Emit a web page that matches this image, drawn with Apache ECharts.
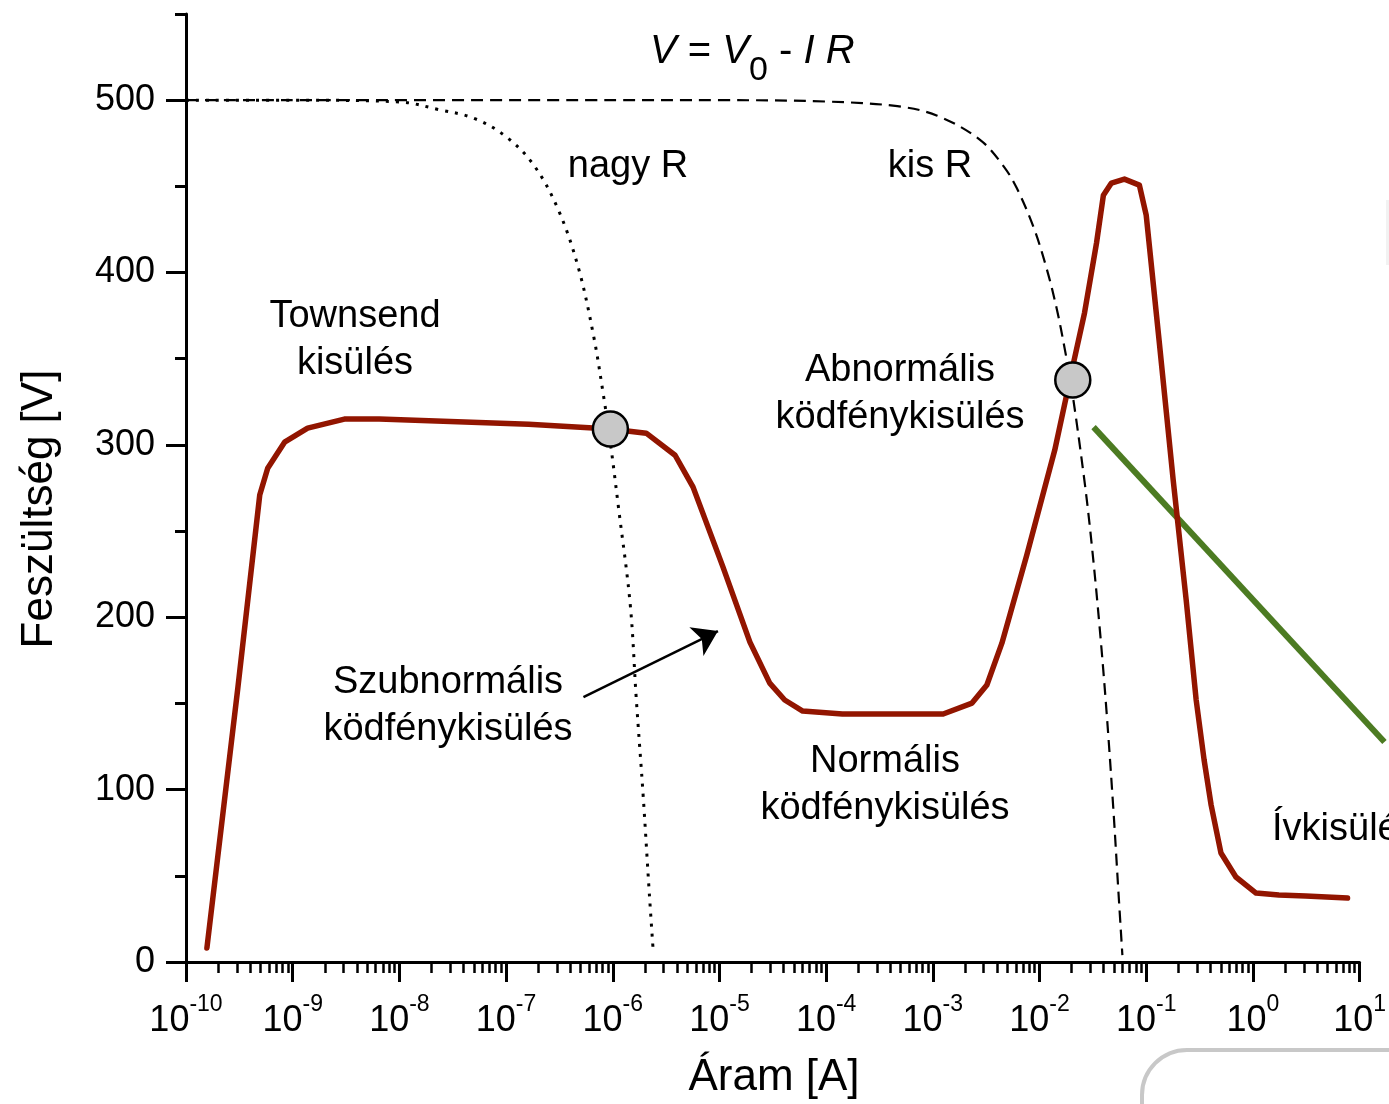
<!DOCTYPE html>
<html><head><meta charset="utf-8">
<script src="https://cdn.jsdelivr.net/npm/echarts@6/dist/echarts.min.js"></script>
<style>html,body{margin:0;padding:0;background:#fff}#c{width:1389px;height:1104px}</style>
</head><body><div id="c"></div>
<script>
const FONT = '"Liberation Sans", Arial, sans-serif';

// Discharge characteristic (red curve): current [A], voltage [V]
const dischargeI = [1.57e-10, 3.06e-10, 4.91e-10, 5.83e-10, 8.39e-10, 1.38e-9, 3.05e-9, 6.47e-9, 1.63e-7, 9.5e-7, 2.06e-6, 3.84e-6, 5.66e-6, 1.08e-5, 1.93e-5, 2.96e-5, 4.09e-5, 6.03e-5, 1.42e-4, 1.25e-3, 2.33e-3, 3.21e-3, 4.44e-3, 7.59e-3, 1.39e-2, 2.08e-2, 2.64e-2, 3.42e-2, 3.97e-2, 4.72e-2, 6.25e-2, 8.63e-2, 0.100, 0.132, 0.179, 0.237, 0.294, 0.349, 0.406, 0.502, 0.693, 1.07, 1.75, 3.13, 7.71];
const dischargeV = [8.1, 158.9, 270.9, 286.5, 301.6, 309.7, 315, 315, 312, 309.2, 306.8, 294, 275.5, 229.1, 185.6, 161.8, 152, 145.6, 143.9, 143.9, 150.2, 160.7, 185, 236, 297, 347.4, 376.5, 417, 444.9, 451.9, 454.2, 450.7, 433.3, 360.8, 279.6, 210, 152, 117.2, 91.1, 63.2, 49.3, 40.0, 38.9, 38.3, 37.1];

// Load line, large R (dotted)
const largeRI = [1e-10, 1e-9, 1e-8, 2.36e-8, 5.0e-8, 9.93e-8, 1.82e-7, 3.10e-7, 4.77e-7, 6.59e-7, 8.17e-7, 9.51e-7, 1.13e-6, 1.46e-6, 1.66e-6, 1.93e-6, 2.20e-6, 2.39e-6];
const largeRV = [500, 500, 499, 494.5, 489.5, 479, 462.3, 436.2, 402.6, 363.7, 329, 301, 264, 207, 153, 96, 40, 7];

// Load line, small R (dashed)
const smallRI = [1e-10, 1e-6, 1e-5, 1e-4, 4.65e-4, 1.10e-3, 2.77e-3, 4.63e-3, 6.12e-3, 8.83e-3, 1.17e-2, 1.45e-2, 1.72e-2, 2.0e-2, 2.64e-2, 3.10e-2, 3.65e-2, 4.24e-2, 4.93e-2, 5.50e-2, 5.98e-2];
const smallRV = [500, 500, 500, 499.2, 496.5, 491, 477, 461.5, 449, 426, 402, 379, 356, 333, 279, 241, 195, 146, 88, 40, 4];

// Arc (green line)
const arcI = [0.0321, 17.1];
const arcV = [310.3, 127.6];

// Operating points (grey circles)
const opI = [9.5e-7, 0.0205];
const opV = [309.2, 337.6];

// Arrow pointing to subnormal region
const arrowI = [5.31e-7, 9.68e-6];
const arrowV = [153.7, 192];

// Axis ticks
const xDecadeExp = [-10, -9, -8, -7, -6, -5, -4, -3, -2, -1, 0, 1];
const xTickLabels = ['-10', '-9', '-8', '-7', '-6', '-5', '-4', '-3', '-2', '-1', '0', '1'];
const xMinorMult = [2, 3, 4, 5, 6, 7, 8, 9];
const yMajorTicks = [0, 100, 200, 300, 400, 500];
const yMinorTicks = [50, 150, 250, 350, 450, 550];

const xMajorValues = xDecadeExp.map(e => Math.pow(10, e));
const xMinorValues = [];
xDecadeExp.slice(0, -1).forEach(e => xMinorMult.forEach(m => xMinorValues.push(m * Math.pow(10, e))));

const zip = (a, b) => a.map((v, i) => [v, b[i]]);

const chart = echarts.init(document.getElementById('c'), null, {renderer: 'canvas'});

const txt = (text, x, y, opts) => Object.assign({
  type: 'text', x: x, y: y, z: 100,
  style: Object.assign({text: text, font: '38px ' + FONT, fill: '#000', align: 'center', verticalAlign: 'middle', textAlign: 'center', textVerticalAlign: 'middle'}, opts && opts.style || {})
}, opts && opts.el || {});

chart.setOption({
  animation: false,
  backgroundColor: '#fff',
  grid: {left: 186, right: 22, top: 14, bottom: 142, containLabel: false},
  xAxis: [{
    type: 'log', logBase: 10, min: 1e-10, max: 10, position: 'bottom',
    axisLine: {show: true, onZero: false, lineStyle: {color: '#000', width: 3}},
    axisTick: {show: true, inside: false, length: 20, lineStyle: {color: '#000', width: 3}, customValues: xMajorValues},
    axisLabel: {
      customValues: xMajorValues, margin: 31, color: '#000', fontFamily: FONT,
      formatter: v => {
        const e = Math.round(Math.log10(v));
        return '{b|10}{s|' + xTickLabels[xDecadeExp.indexOf(e)] + '}';
      },
      rich: {
        b: {fontSize: 36, fontFamily: FONT, color: '#000', lineHeight: 46, verticalAlign: 'bottom'},
        s: {fontSize: 23, fontFamily: FONT, color: '#000', lineHeight: 46, verticalAlign: 'top'}
      }
    },
    splitLine: {show: false}, minorTick: {show: false}
  }, {
    type: 'log', logBase: 10, min: 1e-10, max: 10, position: 'bottom',
    axisLine: {show: false},
    axisTick: {show: true, inside: false, length: 11, lineStyle: {color: '#000', width: 2.5}, customValues: xMinorValues},
    axisLabel: {show: false},
    splitLine: {show: false}
  }],
  yAxis: [{
    type: 'value', min: 0, max: 550, position: 'left',
    axisLine: {show: true, onZero: false, lineStyle: {color: '#000', width: 3}},
    axisTick: {show: true, inside: false, length: 20, lineStyle: {color: '#000', width: 3}, customValues: yMajorTicks},
    axisLabel: {customValues: yMajorTicks, margin: 31, fontSize: 36, fontFamily: FONT, color: '#000'},
    splitLine: {show: false}
  }, {
    type: 'value', min: 0, max: 550, position: 'left',
    axisLine: {show: false},
    axisTick: {show: true, inside: false, length: 11, lineStyle: {color: '#000', width: 3}, customValues: yMinorTicks},
    axisLabel: {show: false},
    splitLine: {show: false}
  }],
  series: [
    {
      name: 'nagy R', type: 'line', data: zip(largeRI, largeRV), showSymbol: false, smooth: 0.35,
      lineStyle: {color: '#000', width: 3, type: [3, 7], cap: 'butt'}, z: 3, silent: true
    },
    {
      name: 'kis R', type: 'line', data: zip(smallRI, smallRV), showSymbol: false, smooth: 0.35,
      lineStyle: {color: '#000', width: 2.2, type: [12, 7]}, z: 3, silent: true
    },
    {
      name: 'kisülés', type: 'line', data: zip(dischargeI, dischargeV), showSymbol: false,
      lineStyle: {color: '#921500', width: 5.5, join: 'round', cap: 'round'}, z: 4, silent: true
    },
    {
      name: 'ív', type: 'lines', coordinateSystem: 'cartesian2d', clip: false,
      data: [{coords: zip(arcI, arcV)}], symbol: 'none',
      lineStyle: {color: '#4c7b22', width: 6, opacity: 1, curveness: 0}, z: 4, silent: true
    },
    {
      name: 'munkapont', type: 'scatter', data: zip(opI, opV), symbol: 'circle', symbolSize: 35,
      itemStyle: {color: '#c8c8c8', borderColor: '#000', borderWidth: 2.5, opacity: 1}, z: 6, silent: true
    },
    {
      name: 'nyíl', type: 'lines', coordinateSystem: 'cartesian2d',
      data: [{coords: zip(arrowI, arrowV)}],
      symbol: ['none', 'arrow'], symbolSize: [16, 24],
      lineStyle: {color: '#000', width: 2.5, opacity: 1, curveness: 0}, z: 5, silent: true
    }
  ],
  graphic: [
    {
      type: 'text', x: 650, y: 54, z: 100,
      style: {
        text: '{i|V}{n| = }{i|V}{sub|0}{n| - }{i|I}{n| }{i|R}',
        align: 'left', verticalAlign: 'middle', textAlign: 'left', textVerticalAlign: 'middle',
        fill: '#000', font: '40px ' + FONT,
        rich: {
          i: {fontSize: 40, fontStyle: 'italic', fontFamily: FONT, fill: '#000', color: '#000', verticalAlign: 'top', lineHeight: 44},
          n: {fontSize: 40, fontFamily: FONT, fill: '#000', color: '#000', verticalAlign: 'top', lineHeight: 44},
          sub: {fontSize: 34, fontFamily: FONT, fill: '#000', color: '#000', verticalAlign: 'top', lineHeight: 40, padding: [22, 0, 0, 0]}
        }
      }
    },
    txt('nagy R', 628, 167),
    txt('kis R', 930, 167),
    txt('Townsend\nkisülés', 355, 340, {style: {lineHeight: 47}}),
    txt('Abnormális\nködfénykisülés', 900, 394, {style: {lineHeight: 47}}),
    txt('Szubnormális\nködfénykisülés', 448, 706, {style: {lineHeight: 47}}),
    txt('Normális\nködfénykisülés', 885, 785, {style: {lineHeight: 47}}),
    txt('Ívkisülés', 1272, 830, {style: {align: 'left', textAlign: 'left'}}),
    txt('Feszültség [V]', 40, 509, {style: {font: '44px ' + FONT}, el: {rotation: Math.PI / 2}}),
    txt('Áram [A]', 774, 1078, {style: {font: '44px ' + FONT}}),
    {
      type: 'rect', z: 1,
      shape: {x: 1142, y: 1050, width: 400, height: 200, r: 45},
      style: {fill: 'none', stroke: '#c8c8c8', lineWidth: 4}
    },
    {
      type: 'rect', z: 1,
      shape: {x: 1386, y: 200, width: 4, height: 65},
      style: {fill: '#f2f2f2', stroke: 'none'}
    }
  ]
});
</script>
</body></html>
